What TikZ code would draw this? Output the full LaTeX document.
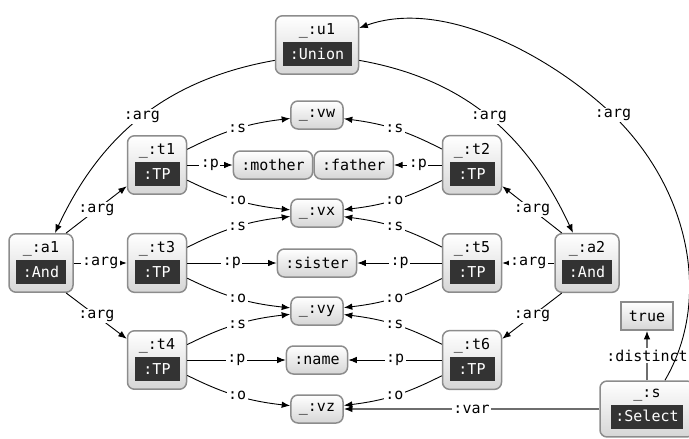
\documentclass[tikz,border=0pt]{standalone}
\usepackage{fontspec}
\setmonofont{DejaVu Sans Mono}
\usetikzlibrary{positioning,arrows.meta}

\definecolor{nodeborder}{HTML}{8C8C8C}
\definecolor{nodefill}{HTML}{D6D6D6}
\definecolor{typebg}{HTML}{333333}
\definecolor{linkgray}{HTML}{6E6E6E}

\newcommand{\rtype}[2]{{\setlength{\fboxsep}{0pt}\colorbox{typebg}{\makebox[#1]{\rule[-7pt]{0pt}{24pt}\textcolor{white}{#2}}}}}

\tikzset{
  box/.style={draw=nodeborder,line width=1.5pt,top color=white,bottom color=nodefill,font=\ttfamily\fontsize{15}{18}\selectfont},
  res/.style={box,rounded corners=7pt,align=center,inner xsep=7pt,inner ysep=8pt},
  lit/.style={box,rounded corners=7pt,inner xsep=8pt,inner ysep=0pt,minimum height=28pt},
  val/.style={box,inner xsep=8pt,inner ysep=0pt,minimum height=28pt},
  lbl/.style={fill=white,inner sep=1.5pt,font=\ttfamily\fontsize{15}{18}\selectfont},
  link/.style={line width=0.9pt,-{Latex[length=8.5pt,width=6.5pt,color=black]}}
}

\begin{document}
\begin{tikzpicture}[x=1pt,y=1pt]
\useasboundingbox (0,0) rectangle (689,-439);

\node (u1) at (317,-45) [res] {\_:u1\\[3pt]\rtype{69pt}{:Union}};
\node (a1) at (41,-263) [res] {\_:a1\\[3pt]\rtype{50pt}{:And}};
\node (a2) at (587,-263) [res] {\_:a2\\[3pt]\rtype{50pt}{:And}};
\node (t1) at (157,-165) [res] {\_:t1\\[3pt]\rtype{45pt}{:TP}};
\node (t3) at (157,-263) [res] {\_:t3\\[3pt]\rtype{45pt}{:TP}};
\node (t4) at (157,-360) [res] {\_:t4\\[3pt]\rtype{45pt}{:TP}};
\node (t2) at (472,-165) [res] {\_:t2\\[3pt]\rtype{45pt}{:TP}};
\node (t5) at (472,-263) [res] {\_:t5\\[3pt]\rtype{45pt}{:TP}};
\node (t6) at (472,-360) [res] {\_:t6\\[3pt]\rtype{45pt}{:TP}};
\node (s) at (647,-409) [res,minimum width=94pt] {\_:s\\[3pt]\rtype{72pt}{:Select}};

\node (vw) at (317,-115) [lit] {\_:vw};
\node (vx) at (317,-213) [lit] {\_:vx};
\node (vy) at (317,-311) [lit] {\_:vy};
\node (vz) at (317,-409) [lit] {\_:vz};
\node (mother) at (273,-165) [lit] {:mother};
\node (father) [lit,right=0pt of mother] {:father};
\node (sister) at (317,-263) [lit] {:sister};
\node (name) at (317,-360) [lit] {:name};
\node (true) at (647,-316) [val] {true};

% union and its arguments
\draw[link] (u1.200) to[out=190,in=65] node[lbl] {:arg} ([xshift=14pt]a1.north);
\draw[link] (u1.-20) to[out=-10,in=115] node[lbl] {:arg} ([xshift=-14pt]a2.north);
\draw[link] (a1.50) -- node[lbl] {:arg} (t1.215);
\draw[link] (a1) -- node[lbl] {:arg} (t3);
\draw[link] (a1.-50) -- node[lbl] {:arg} (t4.145);
\draw[link] (a2.130) -- node[lbl] {:arg} (t2.-35);
\draw[link] (a2) -- node[lbl] {:arg} (t5);
\draw[link] (a2.-130) -- node[lbl] {:arg} (t6.35);

% triple patterns, left
\draw[link] (t1) to[bend left=10] node[lbl] {:s} (vw);
\draw[link] (t1) -- node[lbl] {:p} (mother);
\draw[link] (t1) to[bend right=10] node[lbl] {:o} (vx);
\draw[link] (t3) to[bend left=10] node[lbl] {:s} (vx);
\draw[link] (t3) -- node[lbl] {:p} (sister);
\draw[link] (t3) to[bend right=10] node[lbl] {:o} (vy);
\draw[link] (t4) to[bend left=10] node[lbl] {:s} (vy);
\draw[link] (t4) -- node[lbl] {:p} (name);
\draw[link] (t4) to[bend right=10] node[lbl] {:o} (vz);

% triple patterns, right
\draw[link] (t2) to[bend right=10] node[lbl] {:s} (vw);
\draw[link] (t2) -- node[lbl] {:p} (father);
\draw[link] (t2) to[bend left=10] node[lbl] {:o} (vx);
\draw[link] (t5) to[bend right=10] node[lbl] {:s} (vx);
\draw[link] (t5) -- node[lbl] {:p} (sister);
\draw[link] (t5) to[bend left=10] node[lbl] {:o} (vy);
\draw[link] (t6) to[bend right=10] node[lbl] {:s} (vy);
\draw[link] (t6) -- node[lbl] {:p} (name);
\draw[link] (t6) to[bend left=10] node[lbl] {:o} (vz);

% select
\draw[link,linkgray,line width=1.3pt] (s) -- node[lbl,text=black] {:var} (vz);
\draw[link,linkgray,line width=1.3pt] (s) -- node[lbl,text=black] {:distinct} (true);
\draw[link] (s.58) .. controls (712,-300) and (690,-190) .. (613,-115) node[lbl] {:arg}
  .. controls (555,-59) and (445,3) .. (u1.22);
\end{tikzpicture}
\end{document}
